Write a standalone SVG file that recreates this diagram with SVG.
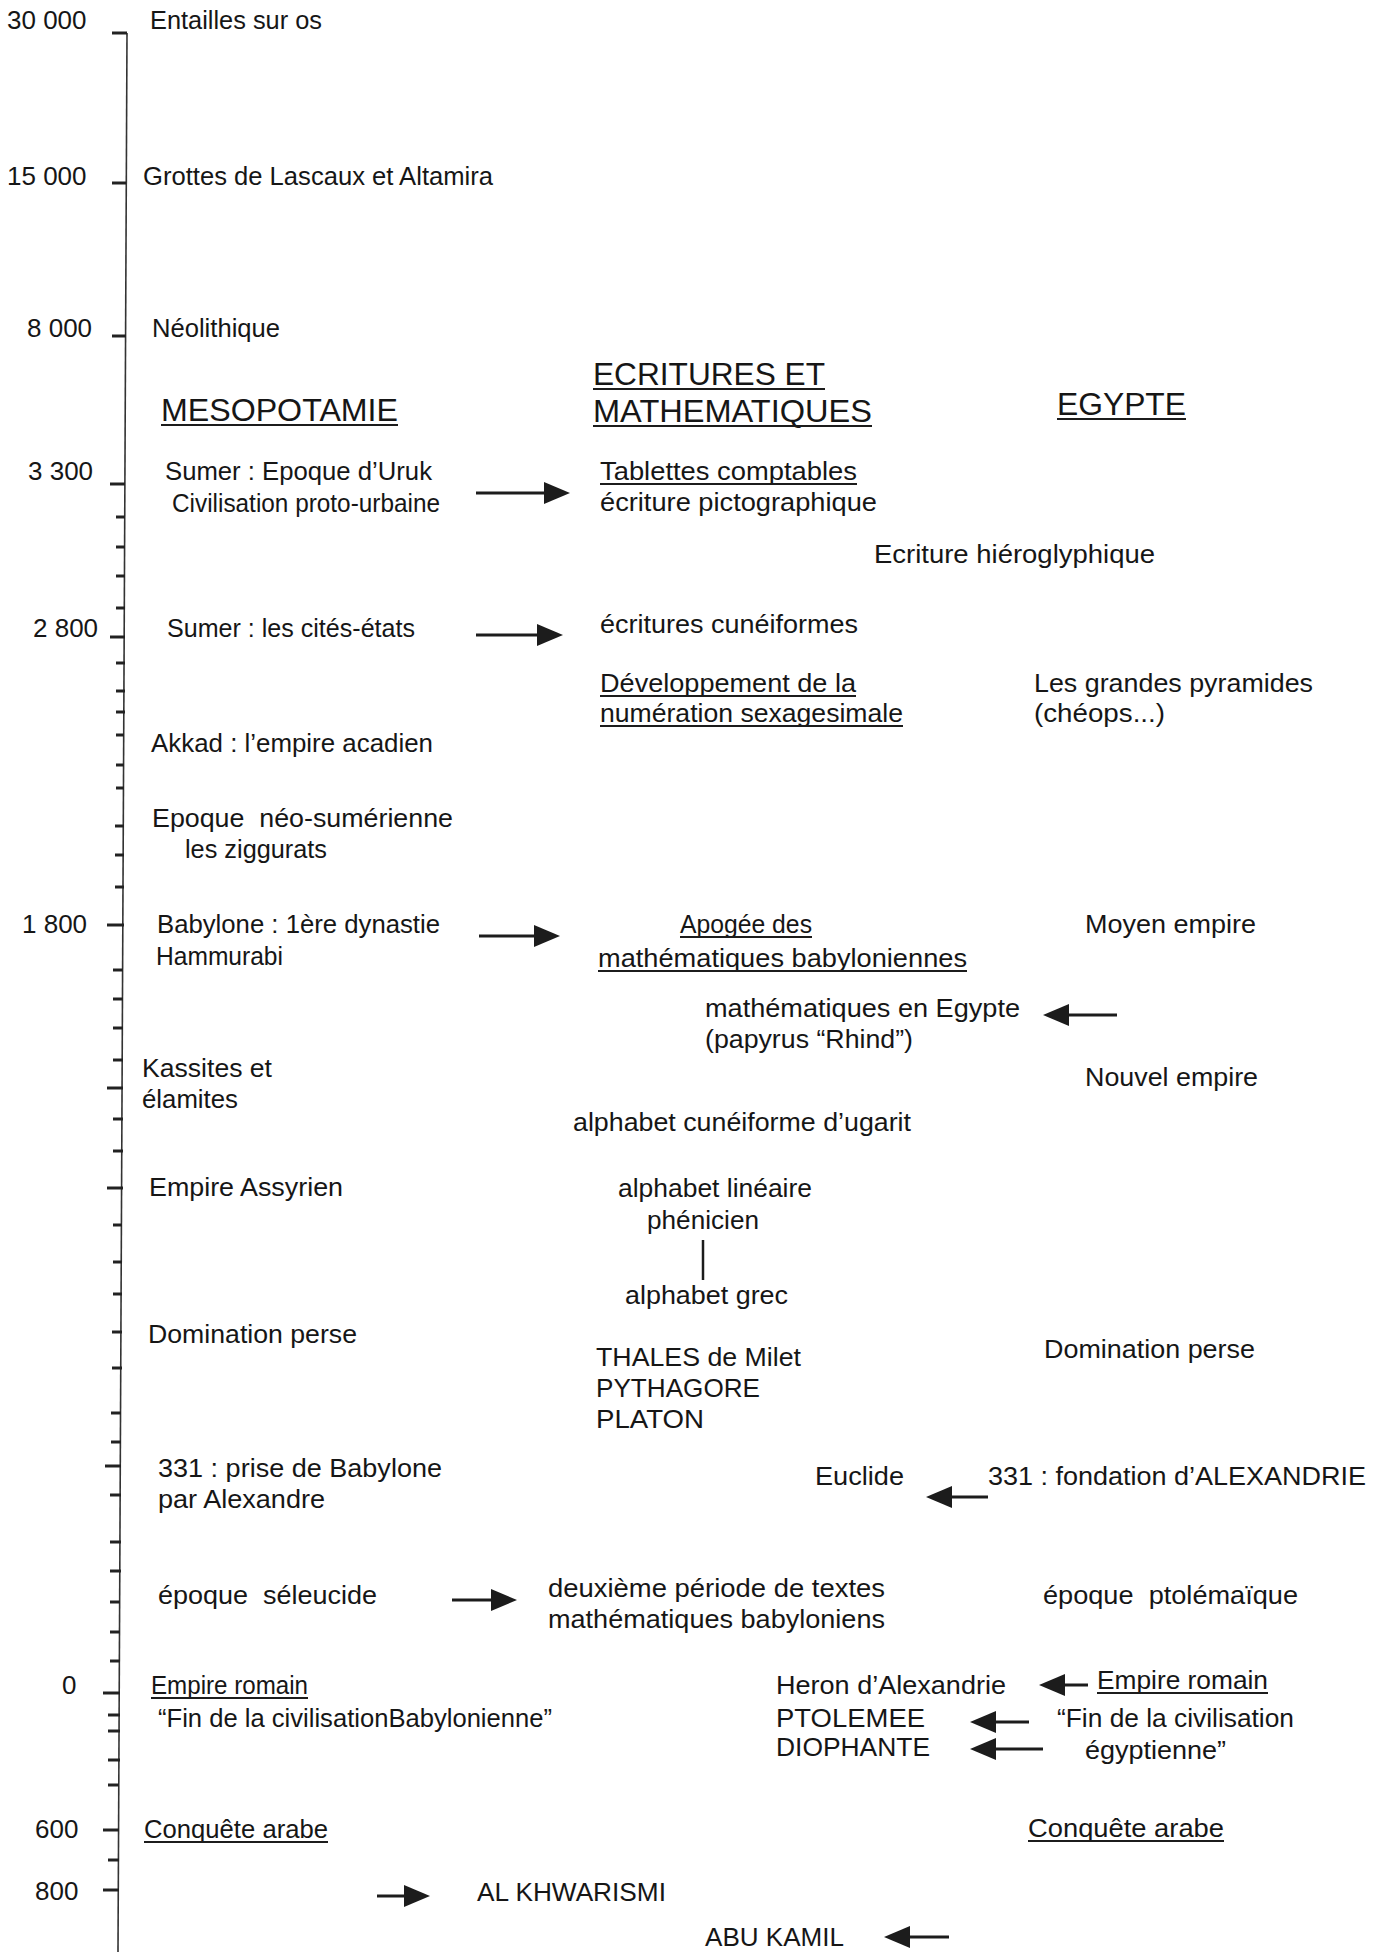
<svg xmlns="http://www.w3.org/2000/svg" width="1382" height="1952" viewBox="0 0 1382 1952">
<style>
.t{font-family:"Liberation Sans",Arial,Helvetica,sans-serif;font-size:26px;fill:#161616}
.h{font-size:31px}
.pre{white-space:pre}
.u{stroke:#1c1c1c;stroke-width:1.8}
.ax{stroke:#333;stroke-width:1.6;fill:none}
.tk{stroke:#222;stroke-width:3}
.ar{stroke:#1c1c1c;stroke-width:3.2;fill:none}
</style>
<defs>
<marker id="ah" markerUnits="userSpaceOnUse" markerWidth="28" markerHeight="24" refX="18" refY="11" orient="auto">
<path d="M0,0 L26,11 L0,22 Z" fill="#1c1c1c"/>
</marker>
</defs>
<rect width="1382" height="1952" fill="#fff"/>

<g id="axis">
<line class="ax" x1="127" y1="33" x2="118" y2="1952"/>
<g class="tk">
<line x1="112" y1="33" x2="127" y2="33"/>
<line x1="112" y1="183" x2="126" y2="183"/>
<line x1="112" y1="336" x2="126" y2="336"/>
<line x1="110" y1="484" x2="125" y2="484"/>
<line x1="116" y1="517" x2="125" y2="517"/>
<line x1="116" y1="547" x2="125" y2="547"/>
<line x1="116" y1="576" x2="125" y2="576"/>
<line x1="116" y1="608" x2="125" y2="608"/>
<line x1="110" y1="637" x2="125" y2="637"/>
<line x1="116" y1="663" x2="125" y2="663"/>
<line x1="116" y1="691" x2="125" y2="691"/>
<line x1="116" y1="712" x2="125" y2="712"/>
<line x1="116" y1="735" x2="124" y2="735"/>
<line x1="116" y1="765" x2="124" y2="765"/>
<line x1="116" y1="788" x2="124" y2="788"/>
<line x1="115" y1="826" x2="124" y2="826"/>
<line x1="115" y1="855" x2="124" y2="855"/>
<line x1="115" y1="887" x2="124" y2="887"/>
<line x1="107" y1="925" x2="124" y2="925"/>
<line x1="113" y1="970" x2="123" y2="970"/>
<line x1="113" y1="999" x2="123" y2="999"/>
<line x1="113" y1="1028" x2="123" y2="1028"/>
<line x1="113" y1="1060" x2="123" y2="1060"/>
<line x1="107" y1="1088" x2="123" y2="1088"/>
<line x1="113" y1="1119" x2="123" y2="1119"/>
<line x1="113" y1="1151" x2="123" y2="1151"/>
<line x1="107" y1="1188" x2="123" y2="1188"/>
<line x1="113" y1="1225" x2="122" y2="1225"/>
<line x1="113" y1="1262" x2="122" y2="1262"/>
<line x1="113" y1="1294" x2="122" y2="1294"/>
<line x1="112" y1="1332" x2="122" y2="1332"/>
<line x1="112" y1="1368" x2="122" y2="1368"/>
<line x1="111" y1="1413" x2="121" y2="1413"/>
<line x1="111" y1="1442" x2="121" y2="1442"/>
<line x1="105" y1="1466" x2="121" y2="1466"/>
<line x1="110" y1="1495" x2="121" y2="1495"/>
<line x1="110" y1="1542" x2="121" y2="1542"/>
<line x1="110" y1="1571" x2="121" y2="1571"/>
<line x1="110" y1="1602" x2="120" y2="1602"/>
<line x1="110" y1="1632" x2="120" y2="1632"/>
<line x1="110" y1="1661" x2="120" y2="1661"/>
<line x1="103" y1="1693" x2="120" y2="1693"/>
<line x1="108" y1="1715" x2="120" y2="1715"/>
<line x1="108" y1="1731" x2="120" y2="1731"/>
<line x1="108" y1="1760" x2="120" y2="1760"/>
<line x1="108" y1="1785" x2="119" y2="1785"/>
<line x1="103" y1="1830" x2="119" y2="1830"/>
<line x1="108" y1="1860" x2="119" y2="1860"/>
<line x1="103" y1="1890" x2="119" y2="1890"/>
</g>
<text class="t" x="7" y="29">30 000</text>
<text class="t" x="7" y="185">15 000</text>
<text class="t" x="27" y="337">8 000</text>
<text class="t" x="28" y="480">3 300</text>
<text class="t" x="33" y="637">2 800</text>
<text class="t" x="22" y="933">1 800</text>
<text class="t" x="62" y="1694">0</text>
<text class="t" x="35" y="1838">600</text>
<text class="t" x="35" y="1900">800</text>
</g>

<g id="headers">
<g id="h-meso"><text class="t h" x="161" y="421" textLength="237" lengthAdjust="spacingAndGlyphs">MESOPOTAMIE</text><line class="u" x1="161" y1="425" x2="398" y2="425"/></g>
<g id="h-ecrit"><text class="t h" x="593" y="385" textLength="232" lengthAdjust="spacingAndGlyphs">ECRITURES ET</text><line class="u" x1="593" y1="389" x2="825" y2="389"/>
<text class="t h" x="593" y="422" textLength="279" lengthAdjust="spacingAndGlyphs">MATHEMATIQUES</text><line class="u" x1="593" y1="426" x2="872" y2="426"/></g>
<g id="h-egypte"><text class="t h" x="1057" y="415" textLength="129" lengthAdjust="spacingAndGlyphs">EGYPTE</text><line class="u" x1="1057" y1="419" x2="1186" y2="419"/></g>
</g>

<g id="n-entailles"><text class="t" x="150" y="29" textLength="172" lengthAdjust="spacingAndGlyphs">Entailles sur os</text></g>
<g id="n-grottes"><text class="t" x="143" y="185" textLength="350" lengthAdjust="spacingAndGlyphs">Grottes de Lascaux et Altamira</text></g>
<g id="n-neolithique"><text class="t" x="152" y="337" textLength="128" lengthAdjust="spacingAndGlyphs">Néolithique</text></g>

<g id="n-uruk"><text class="t" x="165" y="480" textLength="267" lengthAdjust="spacingAndGlyphs">Sumer : Epoque d’Uruk</text>
<text class="t" x="172" y="512" textLength="268" lengthAdjust="spacingAndGlyphs">Civilisation proto-urbaine</text></g>
<g id="n-tablettes"><text class="t" x="600" y="480" textLength="257" lengthAdjust="spacingAndGlyphs">Tablettes comptables</text><line class="u" x1="600" y1="484" x2="857" y2="484"/>
<text class="t" x="600" y="511" textLength="277" lengthAdjust="spacingAndGlyphs">écriture pictographique</text></g>
<g id="n-hiero"><text class="t" x="874" y="563" textLength="281" lengthAdjust="spacingAndGlyphs">Ecriture hiéroglyphique</text></g>
<g id="n-cites"><text class="t" x="167" y="637" textLength="248" lengthAdjust="spacingAndGlyphs">Sumer : les cités-états</text></g>
<g id="n-cuneiformes"><text class="t" x="600" y="633" textLength="258" lengthAdjust="spacingAndGlyphs">écritures cunéiformes</text></g>
<g id="n-sexa"><text class="t" x="600" y="692" textLength="256" lengthAdjust="spacingAndGlyphs">Développement de la</text><line class="u" x1="600" y1="696" x2="856" y2="696"/>
<text class="t" x="600" y="722" textLength="303" lengthAdjust="spacingAndGlyphs">numération sexagesimale</text><line class="u" x1="600" y1="726" x2="903" y2="726"/></g>
<g id="n-pyramides"><text class="t" x="1034" y="692" textLength="279" lengthAdjust="spacingAndGlyphs">Les grandes pyramides</text>
<text class="t" x="1034" y="722" textLength="131" lengthAdjust="spacingAndGlyphs">(chéops...)</text></g>
<g id="n-akkad"><text class="t" x="151" y="752" textLength="282" lengthAdjust="spacingAndGlyphs">Akkad : l’empire acadien</text></g>
<g id="n-neosum"><text class="t pre" x="152" y="827" textLength="301" lengthAdjust="spacingAndGlyphs">Epoque  néo-sumérienne</text>
<text class="t" x="185" y="858" textLength="142" lengthAdjust="spacingAndGlyphs">les ziggurats</text></g>

<g id="n-babylone"><text class="t" x="157" y="933" textLength="283" lengthAdjust="spacingAndGlyphs">Babylone : 1ère dynastie</text>
<text class="t" x="156" y="965" textLength="127" lengthAdjust="spacingAndGlyphs">Hammurabi</text></g>
<g id="n-apogee"><text class="t" x="680" y="933" textLength="132" lengthAdjust="spacingAndGlyphs">Apogée des</text><line class="u" x1="680" y1="937" x2="812" y2="937"/>
<text class="t" x="598" y="967" textLength="369" lengthAdjust="spacingAndGlyphs">mathématiques babyloniennes</text><line class="u" x1="598" y1="971" x2="967" y2="971"/></g>
<g id="n-moyen"><text class="t" x="1085" y="933" textLength="171" lengthAdjust="spacingAndGlyphs">Moyen empire</text></g>
<g id="n-rhind"><text class="t" x="705" y="1017" textLength="315" lengthAdjust="spacingAndGlyphs">mathématiques en Egypte</text>
<text class="t" x="705" y="1048" textLength="208" lengthAdjust="spacingAndGlyphs">(papyrus “Rhind”)</text></g>
<g id="n-kassites"><text class="t" x="142" y="1077" textLength="130" lengthAdjust="spacingAndGlyphs">Kassites et</text>
<text class="t" x="142" y="1108" textLength="96" lengthAdjust="spacingAndGlyphs">élamites</text></g>
<g id="n-nouvel"><text class="t" x="1085" y="1086" textLength="173" lengthAdjust="spacingAndGlyphs">Nouvel empire</text></g>
<g id="n-ugarit"><text class="t" x="573" y="1131" textLength="338" lengthAdjust="spacingAndGlyphs">alphabet cunéiforme d’ugarit</text></g>
<g id="n-assyrien"><text class="t" x="149" y="1196" textLength="194" lengthAdjust="spacingAndGlyphs">Empire Assyrien</text></g>
<g id="n-phenicien"><text class="t" x="618" y="1197" textLength="194" lengthAdjust="spacingAndGlyphs">alphabet linéaire</text>
<text class="t" x="647" y="1229" textLength="112" lengthAdjust="spacingAndGlyphs">phénicien</text></g>
<g id="n-grec"><text class="t" x="625" y="1304" textLength="163" lengthAdjust="spacingAndGlyphs">alphabet grec</text></g>
<g id="n-perse-m"><text class="t" x="148" y="1343" textLength="209" lengthAdjust="spacingAndGlyphs">Domination perse</text></g>
<g id="n-perse-e"><text class="t" x="1044" y="1358" textLength="211" lengthAdjust="spacingAndGlyphs">Domination perse</text></g>
<g id="n-thales"><text class="t" x="596" y="1366" textLength="205" lengthAdjust="spacingAndGlyphs">THALES de Milet</text>
<text class="t" x="596" y="1397" textLength="164" lengthAdjust="spacingAndGlyphs">PYTHAGORE</text>
<text class="t" x="596" y="1428" textLength="108" lengthAdjust="spacingAndGlyphs">PLATON</text></g>
<g id="n-prise"><text class="t" x="158" y="1477" textLength="284" lengthAdjust="spacingAndGlyphs">331 : prise de Babylone</text>
<text class="t" x="158" y="1508" textLength="167" lengthAdjust="spacingAndGlyphs">par Alexandre</text></g>
<g id="n-euclide"><text class="t" x="815" y="1485" textLength="89" lengthAdjust="spacingAndGlyphs">Euclide</text></g>
<g id="n-alexandrie"><text class="t" x="988" y="1485" textLength="378" lengthAdjust="spacingAndGlyphs">331 : fondation d’ALEXANDRIE</text></g>
<g id="n-seleucide"><text class="t pre" x="158" y="1604" textLength="219" lengthAdjust="spacingAndGlyphs">époque  séleucide</text></g>
<g id="n-deuxieme"><text class="t" x="548" y="1597" textLength="337" lengthAdjust="spacingAndGlyphs">deuxième période de textes</text>
<text class="t" x="548" y="1628" textLength="337" lengthAdjust="spacingAndGlyphs">mathématiques babyloniens</text></g>
<g id="n-ptolemaique"><text class="t pre" x="1043" y="1604" textLength="255" lengthAdjust="spacingAndGlyphs">époque  ptolémaïque</text></g>
<g id="n-romain-m"><text class="t" x="151" y="1694" textLength="157" lengthAdjust="spacingAndGlyphs">Empire romain</text><line class="u" x1="151" y1="1698" x2="308" y2="1698"/>
<text class="t" x="158" y="1727" textLength="394" lengthAdjust="spacingAndGlyphs">“Fin de la civilisationBabylonienne”</text></g>
<g id="n-heron"><text class="t" x="776" y="1694" textLength="230" lengthAdjust="spacingAndGlyphs">Heron d’Alexandrie</text>
<text class="t" x="776" y="1727" textLength="149" lengthAdjust="spacingAndGlyphs">PTOLEMEE</text>
<text class="t" x="776" y="1756" textLength="154" lengthAdjust="spacingAndGlyphs">DIOPHANTE</text></g>
<g id="n-romain-e"><text class="t" x="1097" y="1689" textLength="171" lengthAdjust="spacingAndGlyphs">Empire romain</text><line class="u" x1="1097" y1="1693" x2="1268" y2="1693"/>
<text class="t" x="1057" y="1727" textLength="237" lengthAdjust="spacingAndGlyphs">“Fin de la civilisation</text>
<text class="t" x="1085" y="1759" textLength="141" lengthAdjust="spacingAndGlyphs">égyptienne”</text></g>
<g id="n-arabe-m"><text class="t" x="144" y="1838" textLength="184" lengthAdjust="spacingAndGlyphs">Conquête arabe</text><line class="u" x1="144" y1="1842" x2="328" y2="1842"/></g>
<g id="n-arabe-e"><text class="t" x="1028" y="1837" textLength="196" lengthAdjust="spacingAndGlyphs">Conquête arabe</text><line class="u" x1="1028" y1="1841" x2="1224" y2="1841"/></g>
<g id="n-khwarismi"><text class="t" x="477" y="1901" textLength="189" lengthAdjust="spacingAndGlyphs">AL KHWARISMI</text></g>
<g id="n-kamil"><text class="t" x="705" y="1946" textLength="139" lengthAdjust="spacingAndGlyphs">ABU KAMIL</text></g>

<g id="connectors">
<line class="ar" x1="476" y1="493" x2="562" y2="493" marker-end="url(#ah)"/>
<line class="ar" x1="476" y1="635" x2="555" y2="635" marker-end="url(#ah)"/>
<line class="ar" x1="479" y1="936" x2="552" y2="936" marker-end="url(#ah)"/>
<line class="ar" x1="1117" y1="1015" x2="1051" y2="1015" marker-end="url(#ah)"/>
<line class="ar" x1="988" y1="1497" x2="934" y2="1497" marker-end="url(#ah)"/>
<line class="ar" x1="452" y1="1600" x2="509" y2="1600" marker-end="url(#ah)"/>
<line class="ar" x1="1088" y1="1685" x2="1047" y2="1685" marker-end="url(#ah)"/>
<line class="ar" x1="1029" y1="1722" x2="978" y2="1722" marker-end="url(#ah)"/>
<line class="ar" x1="1043" y1="1749" x2="978" y2="1749" marker-end="url(#ah)"/>
<line class="ar" x1="377" y1="1896" x2="422" y2="1896" marker-end="url(#ah)"/>
<line class="ar" x1="949" y1="1937" x2="892" y2="1937" marker-end="url(#ah)"/>
<line class="ar" x1="703" y1="1240" x2="703" y2="1280" style="stroke-width:2.5"/>
</g>
</svg>
